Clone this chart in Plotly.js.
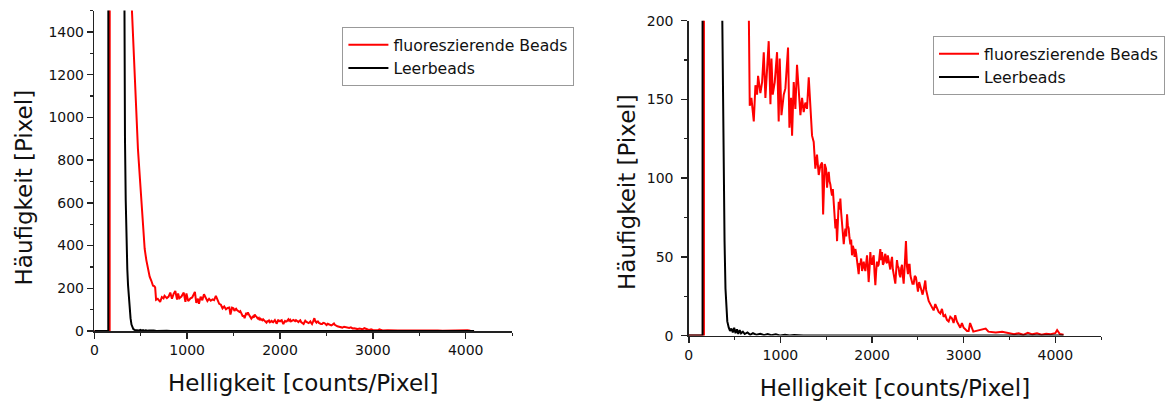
<!DOCTYPE html>
<html>
<head>
<meta charset="utf-8">
<script src="https://cdn.plot.ly/plotly-3.0.1.min.js"></script>
<style>
html,body{margin:0;padding:0;background:#fff;}
#chart{width:1165px;height:401px;}
</style>
</head>
<body>
<div id="chart"></div>
<script>
// ---- data (histogram: brightness in counts/pixel vs. frequency in pixels) ----
const seriesNames = ["fluoreszierende Beads", "Leerbeads"];

const redX = [
  0, 165, 175, 300, 380, 400, 410, 420, 435, 455, 470, 490, 507, 520, 532, 542, 560, 578, 596, 614, 632, 645, 655,
  665, 683, 709, 727, 745, 756, 781, 800, 818, 836,
  854, 872, 891, 902, 916, 938, 963, 981, 992, 1011,
  1036, 1054, 1083, 1098, 1116, 1127, 1145, 1163, 1181, 1200,
  1218, 1236, 1254, 1272, 1290, 1309, 1327, 1345, 1363, 1381,
  1399, 1418, 1436, 1454, 1466, 1483,
  1498, 1504, 1509, 1518, 1527, 1536, 1545, 1554, 1563, 1572,
  1582, 1591, 1600, 1609, 1618, 1627, 1636, 1645, 1654, 1663,
  1672, 1681, 1691, 1700, 1709, 1718, 1727, 1736, 1745, 1754,
  1763, 1772, 1781, 1790, 1800, 1809, 1818, 1827, 1836, 1845,
  1854, 1863, 1872, 1881, 1891, 1900, 1909, 1918, 1927, 1936,
  1945, 1954, 1963, 1972, 1981, 1990, 2000, 2009, 2018, 2027,
  2036, 2045, 2054, 2063, 2072, 2081, 2090, 2099, 2109, 2118,
  2127, 2136, 2145, 2154, 2163, 2172, 2181, 2190, 2199, 2208,
  2218, 2227, 2236, 2245, 2254, 2263, 2272, 2281, 2290, 2299,
  2309, 2318, 2327, 2336, 2345, 2357, 2370, 2381, 2392, 2401,
  2410, 2419, 2428, 2441, 2454, 2466, 2479, 2490, 2501, 2514,
  2527, 2540, 2552, 2566, 2581, 2590, 2599, 2608, 2618, 2636,
  2654, 2672, 2690, 2708, 2727, 2745, 2763, 2781, 2799, 2817,
  2836, 2854, 2872, 2890, 2908, 2926, 2945, 2963, 2981, 3000,
  3018, 3036, 3054,
  3070, 3105, 3160, 3240, 3270, 3350, 3420, 3490, 3550, 3600, 3650,
  3700, 3750, 3800, 3850, 3900, 3950, 4000, 4020, 4050, 4090];
const redY = [
  0, 0, 20000, 20000, 4000, 1550, 1455, 1350, 1200, 950, 850, 720, 613, 530, 457, 385, 332, 285, 254, 235, 212, 210, 204,
  146, 151, 136, 159, 153, 165, 154, 161, 180, 151,
  174, 187, 147, 176, 153, 161, 180, 136, 176, 140,
  153, 157, 183, 132, 151, 127, 161, 144, 172, 151,
  140, 151, 142, 148, 144, 164, 142, 127, 123, 106,
  115, 102, 108, 110, 77, 109,
  106, 100, 94, 101, 104, 98, 96, 92, 89, 93,
  85, 80, 68, 74, 60, 72, 85, 80, 87, 78,
  72, 66, 58, 64, 68, 63, 77, 70, 68, 62,
  58, 61, 51, 57, 55, 50, 55, 52, 47, 43,
  39, 46, 45, 49, 41, 44, 47, 43, 41, 46,
  51, 44, 34, 42, 53, 47, 45, 49, 51, 40,
  32, 41, 47, 44, 45, 50, 55, 48, 53, 45,
  46, 50, 52, 47, 46, 51, 48, 44, 42, 47,
  50, 42, 39, 36, 33, 41, 48, 44, 43, 39,
  37, 43, 45, 38, 33, 45, 60, 44, 39, 45,
  45, 38, 35, 33, 33, 38, 37, 31, 28, 34,
  31, 28, 26, 30, 35, 29, 26, 24, 22, 20,
  18, 16, 20, 17, 15, 14, 17, 12, 13, 10,
  9, 12, 11, 8, 13, 9, 7, 5, 8, 5,
  4, 3, 3,
  8, 2.5, 3.5, 4.5, 2.5, 2, 2.5, 1.4, 0.8, 1.5, 0.5,
  1.8, 0.8, 1.5, 0.6, 1.2, 0.8, 1.5, 3.5, 1, 0.5];

const blackX = [0, 150, 160, 300, 317, 330, 338, 346, 355, 363, 372, 381, 390, 400, 410, 420, 436, 450, 465, 480, 495, 510, 525,
  540, 555, 570, 590, 610, 640, 670, 700, 740, 780, 820, 860, 900, 950, 1000, 1050, 1100, 1150, 1200, 1250, 4090];
const blackY = [0, 0, 20000, 4000, 1500, 900, 613, 380, 290, 215, 150, 98, 60, 30, 16, 9, 5, 3, 4.5, 2, 5, 1.5, 4,
  1, 3.5, 1.5, 2.5, 1, 2, 0.5, 1.5, 0.5, 1.2, 0.3, 1, 0.2, 0.8, 0, 0.5, 0, 0.4, 0, 0, 0];

const xTitle = "Helligkeit [counts/Pixel]";
const yTitle = "Häufigkeit [Pixel]";
const leftYRange = [0, 1500];
const rightYRange = [0, 200];
const xRange = [0, 4500];

// ---- styling ----
const FONT = "DejaVu Sans, Arial, sans-serif";
const AX = "#222";
const RED = "#ff0000";
const BLACK = "#000000";

function trace(x, y, name, color, xa, ya, legend) {
  return {x: x, y: y, name: name, type: "scatter", mode: "lines",
    line: {color: color, width: 2}, xaxis: xa, yaxis: ya, legend: legend,
    showlegend: true, hoverinfo: "skip"};
}

const data = [
  trace(redX, redY, seriesNames[0], RED, "x", "y", "legend"),
  trace(blackX, blackY, seriesNames[1], BLACK, "x", "y", "legend"),
  trace(redX, redY, seriesNames[0], RED, "x2", "y2", "legend2"),
  trace(blackX, blackY, seriesNames[1], BLACK, "x2", "y2", "legend2")
];

function xaxis(domain, anchor, standoff) {
  return {domain: domain, anchor: anchor, range: xRange, showline: true, linecolor: AX, linewidth: 1.5,
    ticks: "outside", ticklen: 6, tickwidth: 1.5, tickcolor: AX, tick0: 0, dtick: 1000,
    minor: {ticks: "outside", ticklen: 3, tickwidth: 1.2, tickcolor: AX, dtick: 500, tick0: 0},
    tickfont: {family: FONT, size: 14, color: "#111"}, showgrid: false, zeroline: false,
    title: {text: xTitle, font: {family: FONT, size: 23, color: "#111"}, standoff: standoff}, fixedrange: true};
}
function yaxis(domain, anchor, range, dtick, minorDtick, standoff) {
  return {domain: domain, anchor: anchor, range: range, showline: true, linecolor: AX, linewidth: 1.5,
    ticks: "outside", ticklen: 6, tickwidth: 1.5, tickcolor: AX, tick0: 0, dtick: dtick,
    minor: {ticks: "outside", ticklen: 3, tickwidth: 1.2, tickcolor: AX, dtick: minorDtick, tick0: 0},
    tickfont: {family: FONT, size: 14, color: "#111"}, showgrid: false, zeroline: false,
    ticklabelstandoff: standoff, fixedrange: true};
}

const W = 1165, H = 401;
const legendStyle = {xanchor: "left", yanchor: "top", bgcolor: "#ffffff", bordercolor: "#999", borderwidth: 1,
  font: {family: FONT, size: 15.7, color: "#111"}, tracegroupgap: 0, itemwidth: 40};
const layout = {
  width: W, height: H,
  margin: {l: 0, r: 0, t: 0, b: 0},
  paper_bgcolor: "#ffffff", plot_bgcolor: "#ffffff",
  showlegend: true,
  xaxis: xaxis([94.5 / W, 513 / W], "y", 17),
  yaxis: yaxis([1 - 331 / H, 1 - 10.6 / H], "x", leftYRange, 200, 100, 0),
  xaxis2: xaxis([690 / W, 1103 / W], "y2", 18),
  yaxis2: yaxis([1 - 335.6 / H, 1 - 20.7 / H], "x2", rightYRange, 50, 25, 5),
  legend: Object.assign({x: 343 / W, y: 1 - 27 / H}, legendStyle),
  legend2: Object.assign({x: 935 / W, y: 1 - 36 / H}, legendStyle),
  annotations: [
    {text: yTitle, xref: "paper", yref: "paper", x: 24 / W, y: 1 - 187.5 / H, textangle: -90,
      showarrow: false, xanchor: "center", yanchor: "middle", font: {family: FONT, size: 23, color: "#111"}},
    {text: yTitle, xref: "paper", yref: "paper", x: 628 / W, y: 1 - 192 / H, textangle: -90,
      showarrow: false, xanchor: "center", yanchor: "middle", font: {family: FONT, size: 23, color: "#111"}}
  ]
};

Plotly.newPlot("chart", data, layout, {staticPlot: true, displayModeBar: false});
</script>
</body>
</html>
